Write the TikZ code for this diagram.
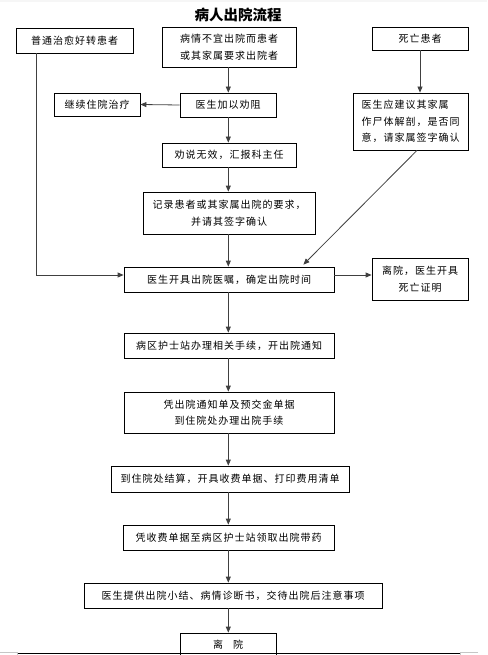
\documentclass[tikz,border=0pt]{standalone}
\usepackage{fontspec}
\newfontfamily\cjk[LetterSpace=10]{Noto Sans CJK SC}
\newfontfamily\cjktitle{Noto Sans CJK SC}
\usetikzlibrary{arrows.meta,calc}
\begin{document}
\begin{tikzpicture}[x=1pt,y=-1pt,
  box/.style={draw=black, line width=0.8pt, inner sep=0pt, align=center,
    font=\cjk\fontsize{10}{16.5}\selectfont},
  arr/.style={draw=black!75, line width=0.8pt, -{Triangle[length=6pt,width=5pt]}},
  ln/.style={draw=black!75, line width=0.8pt}]
\useasboundingbox (0,0) rectangle (487,655);
\fill[gray!7] (0,0) rectangle (487,2.5);
\coordinate (cx) at (228.3,0);
\coordinate (lx) at (36,0);
% title
\node[font=\cjktitle\bfseries\fontsize{14.5}{16}\selectfont, inner sep=0pt] (T) at (238,15) {病人出院流程};
% boxes
\node[box, minimum width=117pt, minimum height=25pt] (A) at (74.5,40.5) {普通治愈好转患者};
\node[box, minimum width=134pt, minimum height=40pt] (B) at (229,47) {病情不宜出院而患者\\或其家属要求出院者};
\node[box, minimum width=96pt, minimum height=23pt] (C) at (420,38.5) {死亡患者};
\node[box, minimum width=86pt, minimum height=23pt] (D) at (97,104.5) {继续住院治疗};
\node[box, minimum width=96pt, minimum height=24pt] (E) at (228,105) {医生加以劝阻};
\node[box, minimum width=115pt, minimum height=57pt, align=left] (F) at (410.5,121.5) {医生应建议其家属\\作尸体解剖，是否同\\意，请家属签字确认};
\node[box, minimum width=134pt, minimum height=24pt] (G) at (229,155) {劝说无效，汇报科主任};
\node[box, minimum width=172pt, minimum height=42pt] (H) at (229,213) {记录患者或其家属出院的要求，\\并请其签字确认};
\node[box, minimum width=210pt, minimum height=25pt] (I) at (229,279.5) {医生开具出院医嘱，确定出院时间};
\node[box, minimum width=96pt, minimum height=42pt] (J) at (420,279) {离院，医生开具\\死亡证明};
\node[box, minimum width=210pt, minimum height=25pt] (K) at (229,345.5) {病区护士站办理相关手续，开出院通知};
\node[box, minimum width=210pt, minimum height=41pt] (L) at (229,412.5) {凭出院通知单及预交金单据\\到住院处办理出院手续};
\node[box, minimum width=238pt, minimum height=26pt] (M) at (230,479) {到住院处结算，开具收费单据、打印费用清单};
\node[box, minimum width=211pt, minimum height=25pt] (N) at (228.5,537.5) {凭收费单据至病区护士站领取出院带药};
\node[box, minimum width=298pt, minimum height=25pt] (O) at (233,595.5) {医生提供出院小结、病情诊断书，交待出院后注意事项};
\node[box, minimum width=96pt, minimum height=24pt] (P) at (228,645) {离\quad 院};
% connectors
\draw[arr] (B.south -| cx) -- (E.north -| cx);
\draw[arr] (E.west) -- (D.east);
\draw[arr] (E.south -| cx) -- (G.north -| cx);
\draw[arr] (G.south -| cx) -- (H.north -| cx);
\draw[arr] (H.south -| cx) -- (I.north -| cx);
\draw[arr] (A.south -| lx) |- ([yshift=4.5pt]I.west);
\draw[arr] ([yshift=4.5pt]I.east) -- ([yshift=4.5pt]I.east -| J.west);
\draw[arr] (C.south) -- (C.south |- F.north);
\draw[arr] ([xshift=6.5pt]F.south) -- ([shift={(-31pt,2pt)}]I.north east);
\draw[arr] (I.south -| cx) -- (K.north -| cx);
\draw[arr] (K.south -| cx) -- (L.north -| cx);
\draw[arr] (L.south -| cx) -- (M.north -| cx);
\draw[arr] (M.south -| cx) -- (N.north -| cx);
\draw[arr] (N.south -| cx) -- (O.north -| cx);
\draw[arr] (O.south -| cx) -- (P.north -| cx);
% page edge
\draw[line width=0.9pt] (17,653) -- (460,653);
\draw[gray!45, line width=0.6pt] (0,652) -- (17,652) -- (17,655);
\draw[gray!45, line width=0.6pt] (478,652) -- (460,652) -- (460,655);
\end{tikzpicture}
\end{document}
